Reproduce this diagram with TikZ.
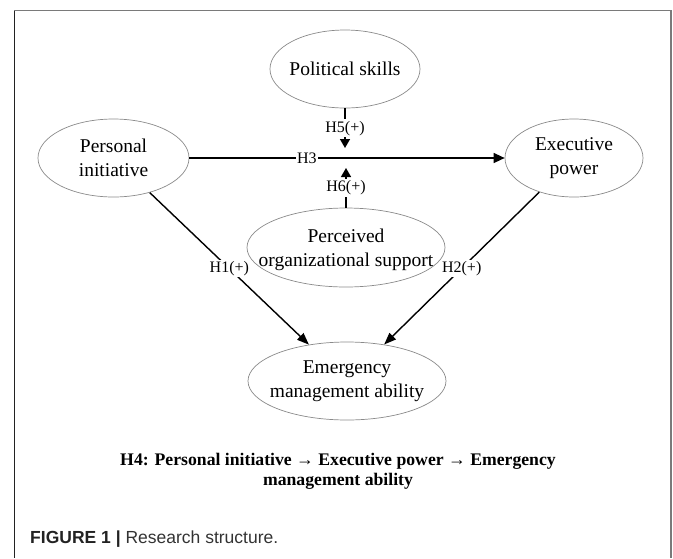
\documentclass[tikz,border=0pt]{standalone}
\usepackage{fontspec}
\setmainfont{Liberation Serif}
\newfontfamily\capfont{Liberation Sans}
\usetikzlibrary{shapes.geometric,arrows.meta}
\definecolor{framegray}{HTML}{7A7A7A}
\definecolor{framedark}{HTML}{222222}
\definecolor{capgray}{HTML}{333333}
\definecolor{ellgray}{HTML}{8A8A8A}
\tikzset{
  var/.style={ellipse, draw=ellgray, line width=0.7pt, inner sep=0pt},
  vtext/.style={font=\fontsize{19.5}{23.5}\selectfont, align=center, inner sep=0pt},
  conn/.style={line width=1.4pt, -{Triangle[length=12pt,width=9pt]}},
  modarrow/.style={line width=1.4pt, -{Triangle[length=9pt,width=10pt]}},
  hlabel/.style={font=\fontsize{16}{18}\selectfont, fill=white, inner sep=1.5pt},
}
\begin{document}
\begin{tikzpicture}[x=1pt,y=-1pt]
\useasboundingbox (0,0) rectangle (673,558);
% frame (open at bottom)
\draw[framegray, line width=1.4pt] (14.3,10.7) -- (671,10.7) -- (671,558);
\draw[framedark, line width=1.6pt] (14.3,10.7) -- (14.3,558);
% variables
\node[var, minimum width=150pt, minimum height=78pt] (ps) at (345,69) {};
\node[vtext] (pst) at (ps.center) {Political skills};
\node[var, minimum width=151pt, minimum height=78pt] (pi) at (113.5,158) {};
\node[vtext] (pit) at (pi.center) {Personal\\initiative};
\node[var, minimum width=138pt, minimum height=78pt] (ep) at (574,158) {};
\node[vtext] (ept) at (ep.center) {Executive\\power};
\node[var, minimum width=198pt, minimum height=79pt] (pos) at (346,247.5) {};
\node[vtext] (post) at ([yshift=-2.5pt]pos.center) {Perceived\\organizational support};
\node[var, minimum width=198pt, minimum height=78pt] (ema) at (347,381) {};
\node[vtext] (emat) at (ema.center) {Emergency\\management ability};
% tips of the moderating arrows
\coordinate (h5tip) at (345,148);
\coordinate (h6tip) at (346,168);
% connectors
\draw[line width=1.4pt, -{Triangle[length=11pt,width=10pt]}] (pi) -- node[hlabel, pos=0.373] (h3) {H3} (ep);
\draw[conn] (pi) -- node[hlabel, pos=0.5] (h1) {H1(+)} (ema);
\draw[conn] (ep) -- node[hlabel, pos=0.5] (h2) {H2(+)} (ema);
\draw[modarrow] (ps.south) -- node[hlabel, pos=0.5] (h5) {H5(+)} (h5tip);
\draw[modarrow] (pos.north) -- node[hlabel, pos=0.5] (h6) {H6(+)} (h6tip);
% hypothesis H4
\node[font=\bfseries\fontsize{17.7}{20}\selectfont, align=center, inner sep=0pt] (h4) at (338,471)
  {H4: Personal initiative → Executive power → Emergency\\management ability};
% caption
\node[anchor=base west, inner sep=0pt, font=\capfont\fontsize{17.5}{20}\selectfont] (cap) at (30,543)
  {\textcolor{framedark}{\bfseries FIGURE 1 |} \textcolor{capgray}{Research structure.}};
\end{tikzpicture}
\end{document}
